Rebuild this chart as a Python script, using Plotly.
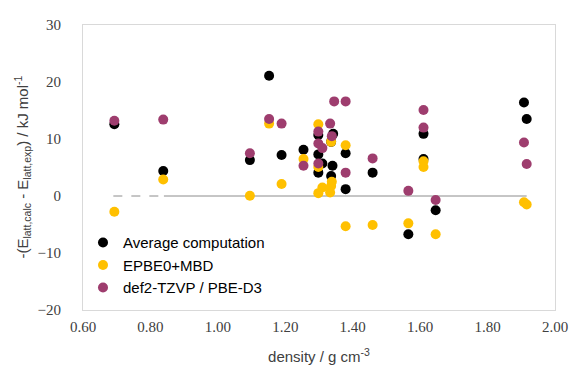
import plotly.graph_objects as go

# Average computation
avg_x = [0.693, 0.838, 1.095, 1.152, 1.189, 1.254, 1.298, 1.298, 1.298, 1.310, 1.336, 1.342,
         1.340, 1.336, 1.379, 1.379, 1.459, 1.565, 1.610, 1.610, 1.646, 1.908, 1.916]
avg_y = [12.6, 4.4, 6.3, 21.1, 7.2, 8.1, 10.7, 7.3, 4.1, 5.7, 9.5, 10.9,
         5.3, 3.5, 7.5, 1.2, 4.1, -6.7, 10.9, 6.5, -2.5, 16.4, 13.5]

# EPBE0+MBD
mbd_x = [0.693, 0.838, 1.095, 1.152, 1.189, 1.254, 1.298, 1.298, 1.298, 1.310, 1.336, 1.333,
         1.336, 1.338, 1.379, 1.379, 1.459, 1.565, 1.610, 1.610, 1.646, 1.908, 1.916]
mbd_y = [-2.75, 2.9, 0.05, 12.7, 2.1, 6.5, 12.6, 5.1, 0.5, 1.5, 9.5, 0.6,
         1.75, 2.5, 8.9, -5.3, -5.1, -4.8, 6.1, 5.1, -6.7, -1.1, -1.5]

# def2-TZVP / PBE-D3
d3_x = [0.693, 0.838, 1.095, 1.152, 1.189, 1.254, 1.298, 1.298, 1.298, 1.310, 1.333, 1.338,
        1.345, 1.379, 1.379, 1.459, 1.565, 1.610, 1.610, 1.646, 1.908, 1.916]
d3_y = [13.2, 13.4, 7.5, 13.5, 12.7, 5.3, 11.3, 9.2, 5.7, 8.4, 12.7, 10.5,
        16.6, 16.6, 4.1, 6.6, 0.9, 15.1, 12.0, -0.7, 9.4, 5.6]

# zero reference line
zero_dash_x = [0.69, 0.84]
zero_solid_x = [0.84, 1.916]
zero_val = 0

x_ticks = [0.6, 0.8, 1.0, 1.2, 1.4, 1.6, 1.8, 2.0]
y_ticks = [-20, -10, 0, 10, 20, 30]

fig = go.Figure()
fig.add_trace(go.Scatter(x=zero_dash_x, y=[zero_val] * len(zero_dash_x), mode="lines",
                         line=dict(color="#8c8c8c", width=1, dash="dash"),
                         showlegend=False, hoverinfo="skip"))
fig.add_trace(go.Scatter(x=zero_solid_x, y=[zero_val] * len(zero_solid_x), mode="lines",
                         line=dict(color="#8c8c8c", width=1),
                         showlegend=False, hoverinfo="skip"))

series = [
    ("Average computation", avg_x, avg_y, "#000000"),
    ("EPBE0+MBD", mbd_x, mbd_y, "#FFC000"),
    ("def2-TZVP / PBE-D3", d3_x, d3_y, "#9E3D6E"),
]
for name, xs, ys, col in series:
    fig.add_trace(go.Scatter(x=xs, y=ys, mode="markers", name=name, legendgroup=name,
                             marker=dict(color=col, size=10, line=dict(width=0))))

fig.add_annotation(text="-(E<sub>latt,calc</sub> - E<sub>latt,exp</sub>) / kJ mol<sup>-1</sup>",
                   xref="paper", yref="paper", x=-0.129, y=0.5, textangle=-90,
                   showarrow=False, xanchor="center", yanchor="middle",
                   font=dict(family="Liberation Sans", size=15, color="#404040"))

fig.update_layout(
    width=579, height=369,
    margin=dict(l=83, r=24, t=25, b=59),
    plot_bgcolor="white", paper_bgcolor="white",
    showlegend=True,
    legend=dict(x=0.0, y=0.02, xanchor="left", yanchor="bottom",
                bgcolor="rgba(0,0,0,0)", traceorder="grouped", tracegroupgap=0,
                font=dict(family="Liberation Sans", size=15, color="#000000"),
                itemwidth=30),
    xaxis=dict(range=[0.6, 2.0], tickvals=x_ticks, ticktext=[f"{v:.2f}" for v in x_ticks],
               showgrid=False, zeroline=False, showline=True, mirror=True, automargin=False,
               linecolor="#D9D9D9", linewidth=1, ticks="", ticklabelstandoff=3,
               tickfont=dict(family="Liberation Serif", size=15, color="#404040"),
               title=dict(text="density / g cm<sup>-3</sup>", standoff=17,
                          font=dict(family="Liberation Sans", size=15, color="#404040"))),
    yaxis=dict(range=[-20, 30], tickvals=y_ticks,
               showgrid=False, zeroline=False, showline=True, mirror=True, automargin=False,
               linecolor="#D9D9D9", linewidth=1, ticks="", ticklabelstandoff=18,
               tickfont=dict(family="Liberation Serif", size=15, color="#404040")),
)

fig.write_html("out.html")
